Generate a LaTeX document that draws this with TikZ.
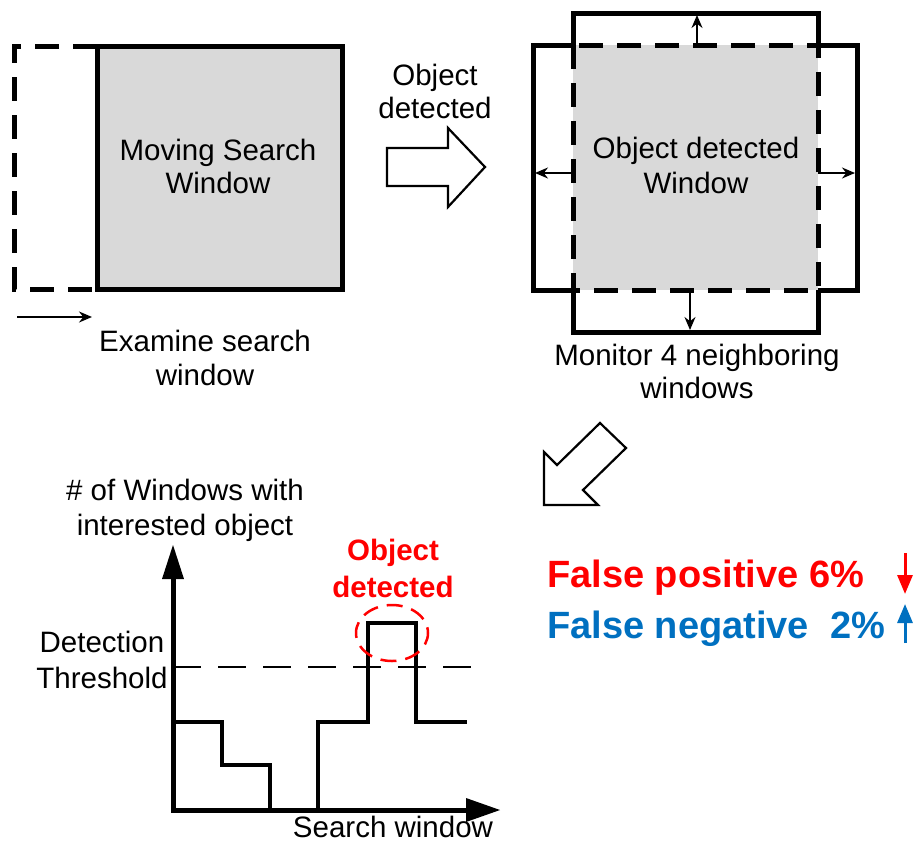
\documentclass[tikz,border=0pt]{standalone}
\usepackage{fontspec}
\setmainfont{Liberation Sans}
\usetikzlibrary{arrows.meta}
\definecolor{fpred}{RGB}{255,0,0}
\definecolor{fnblue}{RGB}{0,112,192}
\definecolor{wingray}{RGB}{217,217,217}
\tikzset{
  lbl/.style={font=\fontsize{29.5}{34}\selectfont, anchor=base, inner sep=0pt},
  redlbl/.style={font=\fontsize{29.5}{34}\selectfont\bfseries, anchor=base, inner sep=0pt, text=fpred},
  bigred/.style={font=\fontsize{38}{44}\selectfont\bfseries, anchor=base west, inner sep=0pt, text=fpred},
  bigblue/.style={font=\fontsize{38}{44}\selectfont\bfseries, anchor=base west, inner sep=0pt, text=fnblue},
  boxline/.style={line width=5pt, line join=miter},
  winddash/.style={line width=5pt, dash pattern=on 24pt off 14pt},
  thinarrow/.style={line width=1.6pt, -{Stealth[length=13pt,width=11pt]}},
  blockarrow/.style={line width=2.2pt, line join=miter, fill=white},
  plotline/.style={line width=4pt, line join=miter},
  axisline/.style={line width=5pt},
  trendarrow/.style={line width=3pt, -{Triangle[length=19pt,width=15pt]}},
}
\begin{document}
\begin{tikzpicture}[x=1pt,y=-1pt]
\useasboundingbox (0,0) rectangle (918,844);

% ---------- Left panel: moving search window ----------
\draw[winddash] (97,46) -- (14,46) -- (14,289) -- (97,289);
\draw[boxline, fill=wingray] (97,46) rectangle (342,289);
\node[lbl] (mv1) at (218,160) {Moving Search};
\node[lbl] (mv2) at (218,193) {Window};
\coordinate (ex0) at (17,317);
\coordinate (ex1) at (92,317);
\draw[thinarrow] (ex0) -- (ex1);
\node[lbl] (ex2) at (205,351) {Examine search};
\node[lbl] (ex3) at (205,385) {window};

% ---------- Block arrow right ----------
\draw[blockarrow] (387,148) -- (448,148) -- (448,128) -- (485,167) -- (448,207) -- (448,186) -- (387,186) -- cycle;
\node[lbl] (od1) at (435,85) {Object};
\node[lbl] (od2) at (435,118) {detected};

% ---------- Right panel: object detected window ----------
\draw[boxline] (573,13) -- (818,13) -- (818,45) -- (857,45) -- (857,290) -- (818,290) -- (818,332)
  -- (573,332) -- (573,290) -- (533,290) -- (533,45) -- (573,45) -- cycle;
\fill[wingray] (573,45) rectangle (818,290);
\draw[winddash] (573,45) rectangle (818,290);
\coordinate (cu0) at (697,45);  \coordinate (cu1) at (697,15);
\coordinate (cl0) at (573,173); \coordinate (cl1) at (535,173);
\coordinate (cr0) at (818,173); \coordinate (cr1) at (855,173);
\coordinate (cd0) at (690,290); \coordinate (cd1) at (690,330);
\draw[thinarrow] (cu0) -- (cu1);
\draw[thinarrow] (cl0) -- (cl1);
\draw[thinarrow] (cr0) -- (cr1);
\draw[thinarrow] (cd0) -- (cd1);
\node[lbl] (ow1) at (696,158) {Object detected};
\node[lbl] (ow2) at (696,193) {Window};
\node[lbl] (mn1) at (697,365) {Monitor 4 neighboring};
\node[lbl] (mn2) at (697,398) {windows};

% ---------- Diagonal block arrow ----------
\draw[blockarrow] (600,423) -- (626,448) -- (583,490) -- (598,505) -- (544,505) -- (544,452) -- (557,465) -- cycle;

% ---------- False positive / negative ----------
\node[bigred] (fp) at (547,587) {False positive 6\%};
\node[bigblue] (fn) at (547,638) {False negative\ \ 2\%};
\coordinate (fpa0) at (905,553); \coordinate (fpa1) at (905,594);
\coordinate (fna0) at (905,643); \coordinate (fna1) at (905,604);
\draw[trendarrow, fpred] (fpa0) -- (fpa1);
\draw[trendarrow, fnblue] (fna0) -- (fna1);

% ---------- Chart ----------
\coordinate (org) at (173,810);
\coordinate (ytop) at (173,577);
\coordinate (xend) at (467,810);
\draw[axisline] (173,812) -- (ytop);
\fill (162,579) -- (173,545) -- (184,579) -- cycle;
\draw[axisline] (171,810) -- (xend);
\fill (466,798) -- (500,810) -- (466,822) -- cycle;
\draw[plotline] (173,722) -- (222,722) -- (222,765) -- (270,765) -- (270,810);
\draw[plotline] (318,810) -- (318,722) -- (368,722) -- (368,623) -- (416,623) -- (416,722) -- (467,722);
\draw[line width=2.7pt, dash pattern=on 28pt off 17pt] (173,667) -- (472,667);
\draw[line width=2.5pt, fpred, dash pattern=on 16pt off 9pt, dash phase=4pt] (392,633) ellipse [x radius=36, y radius=28];
\node[lbl] (yl1) at (185,500) {\# of Windows with};
\node[lbl] (yl2) at (185,535) {interested object};
\node[lbl] (th1) at (102,652) {Detection};
\node[lbl] (th2) at (102,688) {Threshold};
\node[lbl] (xl) at (393,837) {Search window};
\node[redlbl] (ro1) at (393,560) {Object};
\node[redlbl] (ro2) at (393,597) {detected};
\end{tikzpicture}
\end{document}
